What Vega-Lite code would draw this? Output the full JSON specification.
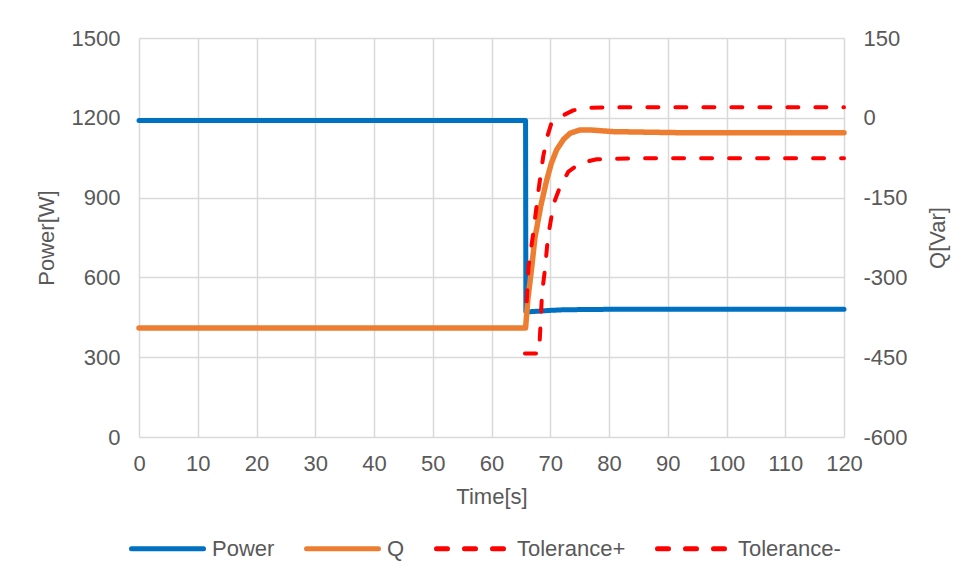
{
  "$schema": "https://vega.github.io/schema/vega-lite/v6.json",
  "width": 705,
  "height": 399,
  "autosize": {"type": "none"},
  "padding": {"left": 139, "top": 38, "right": 112, "bottom": 144},
  "background": "white",
  "config": {
    "view": {"stroke": null},
    "font": "Liberation Sans",
    "axis": {
      "labelFont": "Liberation Sans",
      "labelFontSize": 22,
      "labelColor": "#595959",
      "titleFont": "Liberation Sans",
      "titleFontSize": 22,
      "titleFontWeight": "normal",
      "titleColor": "#595959",
      "domain": false,
      "ticks": false,
      "labelFlush": false,
      "labelOverlap": false,
      "gridColor": "#D9D9D9",
      "gridWidth": 1.5
    },
    "legend": {
      "labelFont": "Liberation Sans",
      "labelFontSize": 22,
      "labelColor": "#595959"
    }
  },
  "data": {
    "values": [
      {"series": "Power", "t": 0, "v": 1190},
      {"series": "Power", "t": 65.8, "v": 1190},
      {"series": "Power", "t": 65.85, "v": 470},
      {"series": "Power", "t": 66.5, "v": 471},
      {"series": "Power", "t": 68, "v": 473},
      {"series": "Power", "t": 70, "v": 476},
      {"series": "Power", "t": 72, "v": 478},
      {"series": "Power", "t": 75, "v": 479},
      {"series": "Power", "t": 80, "v": 480},
      {"series": "Power", "t": 120, "v": 480},

      {"series": "Q", "t": 0, "v": -395},
      {"series": "Q", "t": 65.8, "v": -395},
      {"series": "Q", "t": 66.2, "v": -340},
      {"series": "Q", "t": 66.7, "v": -295},
      {"series": "Q", "t": 67.4, "v": -225},
      {"series": "Q", "t": 68.4, "v": -165},
      {"series": "Q", "t": 69.4, "v": -117},
      {"series": "Q", "t": 70.2, "v": -85},
      {"series": "Q", "t": 71.1, "v": -60},
      {"series": "Q", "t": 72.3, "v": -40},
      {"series": "Q", "t": 73.4, "v": -29},
      {"series": "Q", "t": 75, "v": -23},
      {"series": "Q", "t": 77, "v": -23},
      {"series": "Q", "t": 80.7, "v": -26},
      {"series": "Q", "t": 92, "v": -28},
      {"series": "Q", "t": 120, "v": -28},

      {"series": "Tolerance+", "t": 66.0, "v": -345},
      {"series": "Tolerance+", "t": 66.3, "v": -280},
      {"series": "Tolerance+", "t": 67.1, "v": -217},
      {"series": "Tolerance+", "t": 68.0, "v": -136},
      {"series": "Tolerance+", "t": 68.8, "v": -73},
      {"series": "Tolerance+", "t": 69.5, "v": -35},
      {"series": "Tolerance+", "t": 70.2, "v": -10},
      {"series": "Tolerance+", "t": 71.7, "v": 2},
      {"series": "Tolerance+", "t": 73.9, "v": 14},
      {"series": "Tolerance+", "t": 76.8, "v": 19},
      {"series": "Tolerance+", "t": 85, "v": 20},
      {"series": "Tolerance+", "t": 120, "v": 20},

      {"series": "Tolerance-", "t": 65.7, "v": -443},
      {"series": "Tolerance-", "t": 68.1, "v": -443},
      {"series": "Tolerance-", "t": 68.2, "v": -420},
      {"series": "Tolerance-", "t": 68.6, "v": -330},
      {"series": "Tolerance-", "t": 69.1, "v": -285},
      {"series": "Tolerance-", "t": 69.6, "v": -225},
      {"series": "Tolerance-", "t": 70.3, "v": -180},
      {"series": "Tolerance-", "t": 70.8, "v": -155},
      {"series": "Tolerance-", "t": 71.7, "v": -129},
      {"series": "Tolerance-", "t": 73.1, "v": -101},
      {"series": "Tolerance-", "t": 75.1, "v": -85},
      {"series": "Tolerance-", "t": 77.9, "v": -78},
      {"series": "Tolerance-", "t": 85, "v": -76},
      {"series": "Tolerance-", "t": 120, "v": -76}
    ]
  },
  "encoding": {
    "x": {
      "field": "t",
      "type": "quantitative",
      "scale": {"domain": [0, 120], "nice": false, "zero": false},
      "axis": {
        "title": "Time[s]",
        "values": [0, 10, 20, 30, 40, 50, 60, 70, 80, 90, 100, 110, 120],
        "labelPadding": 16,
        "titlePadding": 12,
        "grid": true
      }
    },
    "color": {
      "field": "series",
      "type": "nominal",
      "scale": {
        "domain": ["Power", "Q", "Tolerance+", "Tolerance-"],
        "range": ["#0070C0", "#ED7D31", "#FF0000", "#FF0000"]
      },
      "legend": {
        "title": null,
        "orient": "none",
        "direction": "horizontal",
        "legendX": -10,
        "legendY": 472,
        "padding": 0,
        "symbolType": "stroke",
        "symbolSize": 5184,
        "symbolStrokeWidth": 5,
        "labelOffset": 6,
        "columnPadding": 21,
        "encode": {"symbols": {"update": {"strokeCap": {"value": "round"}}}}
      }
    },
    "strokeDash": {
      "field": "series",
      "type": "nominal",
      "scale": {
        "domain": ["Power", "Q", "Tolerance+", "Tolerance-"],
        "range": [[1, 0], [1, 0], [11, 17], [11, 17]]
      },
      "legend": {
        "title": null,
        "orient": "none",
        "direction": "horizontal",
        "legendX": -10,
        "legendY": 472,
        "padding": 0,
        "symbolType": "stroke",
        "symbolSize": 5184,
        "symbolStrokeWidth": 5,
        "labelOffset": 6,
        "columnPadding": 21,
        "encode": {"symbols": {"update": {"strokeCap": {"value": "round"}}}}
      }
    }
  },
  "layer": [
    {
      "transform": [{"filter": "datum.series === 'Power'"}],
      "mark": {"type": "line", "strokeWidth": 5, "strokeCap": "round", "strokeJoin": "round"},
      "encoding": {
        "y": {
          "field": "v",
          "type": "quantitative",
          "scale": {"domain": [0, 1500], "nice": false},
          "axis": {
            "title": "Power[W]",
            "orient": "left",
            "format": "d",
            "values": [0, 300, 600, 900, 1200, 1500],
            "labelPadding": 19,
            "titlePadding": 13,
            "grid": true
          }
        }
      }
    },
    {
      "layer": [
        {
          "transform": [{"filter": "datum.series === 'Q'"}],
          "mark": {"type": "line", "strokeWidth": 5.5, "strokeCap": "round", "strokeJoin": "round"},
          "encoding": {
            "y": {
              "field": "v",
              "type": "quantitative",
              "scale": {"domain": [-600, 150], "nice": false, "zero": false},
              "axis": {
                "title": "Q[Var]",
                "orient": "right",
                "values": [-600, -450, -300, -150, 0, 150],
                "labelExpr": "datum.value < 0 ? '-' + abs(datum.value) : '' + datum.value",
                "labelPadding": 19,
                "titlePadding": 20,
                "titleAngle": -90,
                "titleBaseline": "top",
                "grid": false
              }
            }
          }
        },
        {
          "transform": [{"filter": "datum.series === 'Tolerance+'"}],
          "mark": {"type": "line", "strokeWidth": 4, "strokeCap": "round", "strokeJoin": "round"},
          "encoding": {
            "y": {"field": "v", "type": "quantitative"}
          }
        },
        {
          "transform": [{"filter": "datum.series === 'Tolerance-'"}],
          "mark": {"type": "line", "strokeWidth": 4, "strokeCap": "round", "strokeJoin": "round"},
          "encoding": {
            "y": {"field": "v", "type": "quantitative"}
          }
        }
      ]
    }
  ],
  "resolve": {"scale": {"y": "independent"}}
}
